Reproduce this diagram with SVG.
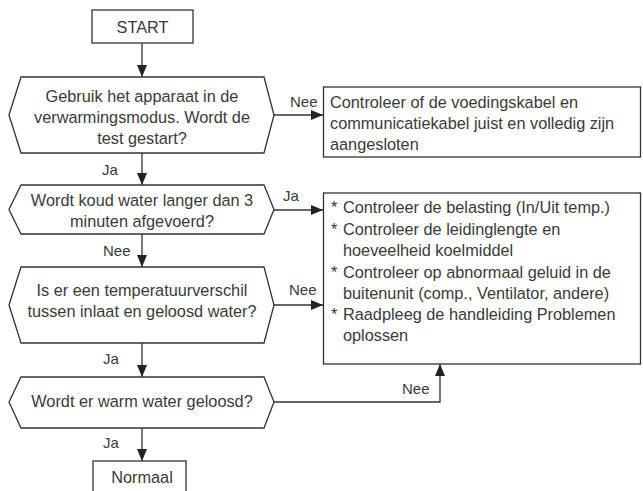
<svg xmlns="http://www.w3.org/2000/svg" width="643" height="491" viewBox="0 0 643 491">
<defs>
<marker id="ah" viewBox="0 0 12 10" refX="12" refY="5" markerWidth="12" markerHeight="10" markerUnits="userSpaceOnUse" orient="auto">
<path d="M0,0 L12,5 L0,10 Z" fill="#222"/>
</marker>
<style>
.shape{fill:#fff;stroke:#333;stroke-width:1.3}
.t{font-family:"Liberation Sans",Arial,sans-serif;font-size:16.3px;fill:#3a3a3a}
.c{text-anchor:middle}
.lbl{font-family:"Liberation Sans",Arial,sans-serif;font-size:15px;fill:#3a3a3a}
.conn{fill:none;stroke:#333;stroke-width:1.3;marker-end:url(#ah)}
</style>
</defs>
<rect width="643" height="491" fill="#fff"/>
<g id="connectors">
<path class="conn" d="M142,43 V77"/>
<path class="conn" d="M142,153 V185"/>
<path class="conn" d="M142,234 V267"/>
<path class="conn" d="M142,343 V377"/>
<path class="conn" d="M142,428 V461"/>
<path class="conn" d="M274,115 H323"/>
<path class="conn" d="M274,210 H323"/>
<path class="conn" d="M274,305 H323"/>
<path class="conn" d="M274,402 H440 V364"/>
<text class="lbl" x="290" y="107">Nee</text>
<text class="lbl" x="102" y="175">Ja</text>
<text class="lbl" x="283" y="201">Ja</text>
<text class="lbl" x="103" y="256">Nee</text>
<text class="lbl" x="289" y="295">Nee</text>
<text class="lbl" x="103" y="364">Ja</text>
<text class="lbl" x="402" y="394">Nee</text>
<text class="lbl" x="103" y="448">Ja</text>
</g>
<g id="start">
<rect class="shape" x="92" y="10" width="101" height="33"/>
<text class="t c" x="142.5" y="33">START</text>
</g>
<g id="q1">
<polygon class="shape" points="21,77 264,77 274,115 264,153 21,153 9,115"/>
<text class="t c" x="142" y="102">Gebruik het apparaat in de</text>
<text class="t c" x="142" y="123">verwarmingsmodus. Wordt de</text>
<text class="t c" x="142" y="144">test gestart?</text>
</g>
<g id="box1">
<rect class="shape" x="323.5" y="87" width="317" height="70"/>
<text class="t" x="330" y="108">Controleer of de voedingskabel en</text>
<text class="t" x="330" y="129">communicatiekabel juist en volledig zijn</text>
<text class="t" x="330" y="150">aangesloten</text>
</g>
<g id="q2">
<polygon class="shape" points="21,185 264,185 274,209.5 264,234 21,234 9,209.5"/>
<text class="t c" x="142" y="206">Wordt koud water langer dan 3</text>
<text class="t c" x="142" y="227">minuten afgevoerd?</text>
</g>
<g id="q3">
<polygon class="shape" points="21,267 264,267 274,305 264,343 21,343 9,305"/>
<text class="t c" x="142" y="296">Is er een temperatuurverschil</text>
<text class="t c" x="142" y="317">tussen inlaat en geloosd water?</text>
</g>
<g id="box2">
<rect class="shape" x="323.5" y="193" width="317" height="171"/>
<text class="t" x="331" y="213">*</text>
<text class="t" x="343" y="213">Controleer de belasting (In/Uit temp.)</text>
<text class="t" x="331" y="234.5">*</text>
<text class="t" x="343" y="234.5">Controleer de leidinglengte en</text>
<text class="t" x="343" y="256">hoeveelheid koelmiddel</text>
<text class="t" x="331" y="277.5">*</text>
<text class="t" x="343" y="277.5">Controleer op abnormaal geluid in de</text>
<text class="t" x="343" y="299">buitenunit (comp., Ventilator, andere)</text>
<text class="t" x="331" y="320">*</text>
<text class="t" x="343" y="320">Raadpleeg de handleiding Problemen</text>
<text class="t" x="343" y="341">oplossen</text>
</g>
<g id="q4">
<polygon class="shape" points="21,377 264,377 274,402 264,428 21,428 9,402"/>
<text class="t c" x="142" y="407">Wordt er warm water geloosd?</text>
</g>
<g id="normaal">
<rect class="shape" x="93" y="461" width="93" height="45"/>
<text class="t c" x="142" y="483">Normaal</text>
</g>
</svg>
